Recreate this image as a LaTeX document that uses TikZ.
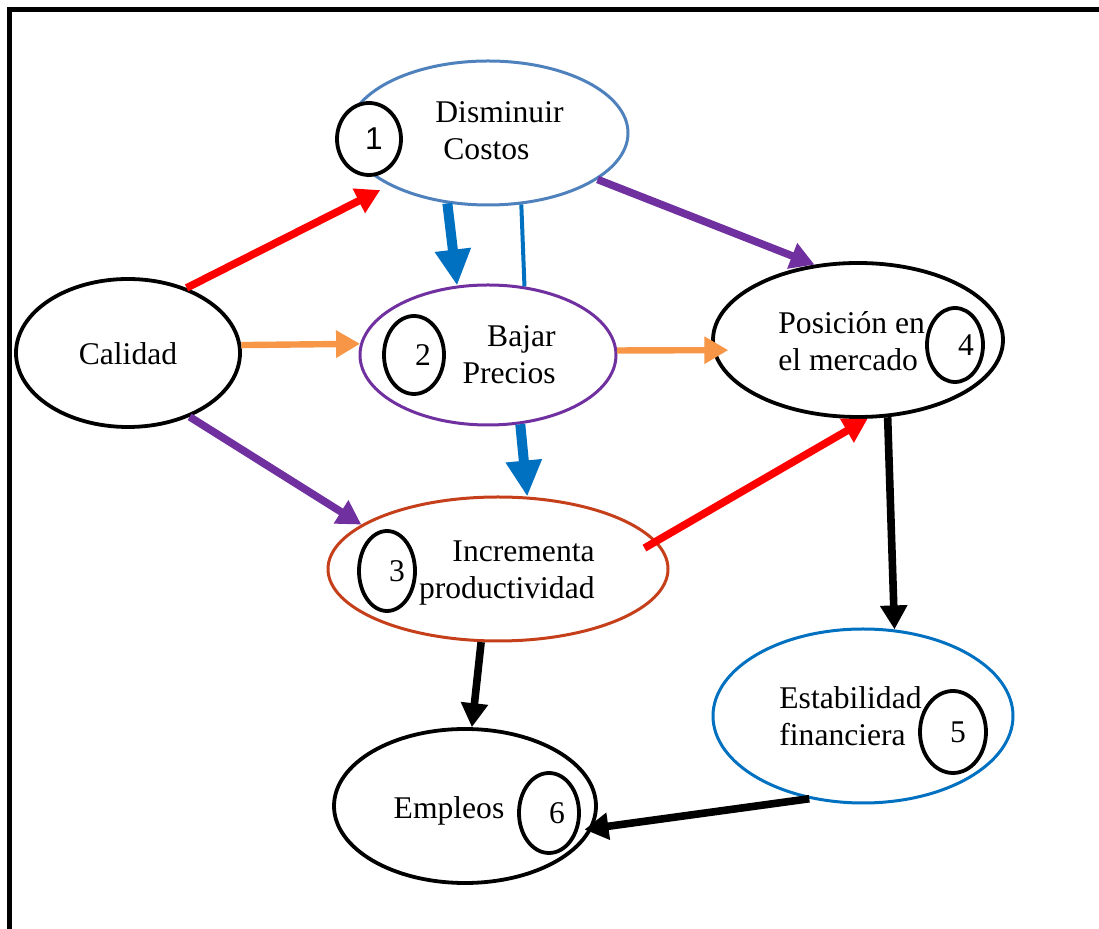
\documentclass[tikz,border=0pt]{standalone}
\usepackage{fontspec}
\setmainfont{Liberation Serif}
\newfontfamily\numsans{Liberation Sans}
\usetikzlibrary{arrows.meta,positioning,shapes.geometric,calc}
\definecolor{crimson}{HTML}{FF0000}
\definecolor{amber}{HTML}{F79646}
\definecolor{plum}{HTML}{7030A0}
\definecolor{azure}{HTML}{0070C0}
\definecolor{steel}{HTML}{4F81BD}
\definecolor{rust}{HTML}{C5401A}
\tikzset{
  every node/.style={font=\fontsize{15.8}{18.5}\selectfont},
  oval/.style={ellipse,draw=black,line width=1.9pt,fill=white,inner sep=0pt},
  num/.style={ellipse,draw=black,line width=1.9pt,fill=white,inner sep=0pt},
  txt/.style={inner sep=0pt},
  flow/.style={-{Triangle[length=12pt,width=13pt]},line width=3.8pt,draw=black},
  bigflow/.style={-{Triangle[length=18pt,width=17pt]},line width=5pt,draw=azure},
  hot/.style={flow,draw=crimson},
  warm/.style={flow,draw=amber,line width=3.2pt},
  deep/.style={flow,draw=plum}
}
\begin{document}
\begin{tikzpicture}[x=0.5pt,y=-0.5pt]
\useasboundingbox (0,0) rectangle (1099,929);
\draw[line width=2.5pt] (9.5,929) -- (9.5,9.5) -- (1099,9.5);

% ovals
\node[oval,draw=steel,line width=1.5pt,minimum width=140pt,minimum height=72pt] (dis) at (488,133) {};
\node[oval,minimum width=112pt,minimum height=74pt] (cal) at (128,353) {};
\node[oval,draw=plum,line width=1.5pt,minimum width=128pt,minimum height=70pt] (baj) at (488,355) {};
\node[oval,minimum width=145pt,minimum height=77pt] (pos) at (858,340) {};
\node[oval,draw=rust,line width=1.5pt,minimum width=170pt,minimum height=72pt] (inc) at (498,569) {};
\node[oval,minimum width=131pt,minimum height=77pt] (emp) at (465,806) {};
\node[oval,draw=azure,line width=1.5pt,minimum width=150pt,minimum height=87pt] (est) at (863,716) {};

% texts
\node[txt,anchor=west,align=left] (disT) at (435,131) {Disminuir\\\hspace*{4pt}Costos};
\node[txt] (calT) at (128,354) {Calidad};
\node[txt,anchor=east,align=right] (bajT) at (556,355) {Bajar\\Precios};
\node[txt,anchor=west,align=left] (posT) at (778,341) {Posición en\\el mercado};
\node[txt,anchor=east,align=right] (incT) at (595,573) {Incrementa\\productividad};
\node[txt] (empT) at (449,811) {Empleos};
\node[txt,anchor=west,align=left] (estT) at (779,716) {Estabilidad\\financiera};

% numbers
\node[num,minimum width=32pt,minimum height=36pt] (n1) at (369,139) {\numsans\hspace*{5pt}1};
\node[num,minimum width=30pt,minimum height=39pt] (n2) at (414,355) {\hspace*{9pt}2};
\node[num,minimum width=28pt,minimum height=40pt] (n3) at (387,571) {\hspace*{10pt}3};
\node[num,minimum width=28pt,minimum height=37pt] (n4) at (955,345) {\hspace*{11pt}4};
\node[num,minimum width=33pt,minimum height=41pt] (n5) at (953,732) {\hspace*{5pt}5};
\node[num,minimum width=30pt,minimum height=40pt] (n6) at (549,813) {\hspace*{8pt}6};

% connectors
\draw[hot,shorten >=5pt] (cal.48) -- (dis.208);
\draw[warm] (cal.4) -- (baj.175);
\draw[deep] (cal.-46) -- (inc.162);
\draw[bigflow] (dis.-120) -- (baj.114);
\draw[azure,line width=2pt] (dis.-65) -- (baj.62);
\draw[deep] (dis.-23) -- (pos.120);
\draw[warm,shorten >=-8pt] (baj.2) -- (pos.184);
\draw[bigflow] (baj.-65) -- (inc.68);
\draw[hot,shorten <=-7pt] (inc.10) -- (pos.-83);
\draw[flow] (pos.-69) -- (est.70);
\draw[flow] (inc.-103) -- (emp.85);
\draw[flow,shorten >=-4pt] (est.-123) -- (emp.-10);
\end{tikzpicture}
\end{document}
